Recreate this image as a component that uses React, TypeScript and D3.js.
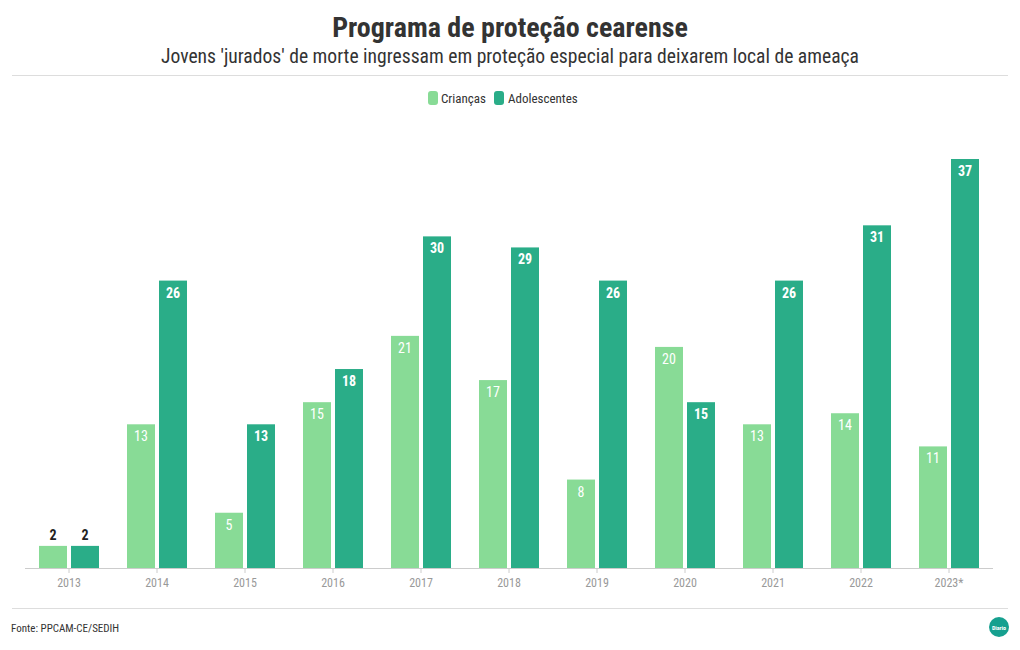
import React from "react";
import * as d3 from "d3";

const years = ["2013", "2014", "2015", "2016", "2017", "2018", "2019", "2020", "2021", "2022", "2023*"];
const criancas = [2, 13, 5, 15, 21, 17, 8, 20, 13, 14, 11];
const adolescentes = [2, 26, 13, 18, 30, 29, 26, 15, 26, 31, 37];
const seriesNames = ["Crianças", "Adolescentes"];
const seriesColors = ["#88db96", "#2aad88"];

const W = 1020;
const H = 650;
const FONT = "'Roboto Condensed', 'Liberation Sans Narrow', 'DejaVu Sans Condensed', Roboto, sans-serif";

export default function App() {
  const x = d3.scaleBand<string>().domain(years).range([25, 993]).paddingInner(0).paddingOuter(0);
  const x1 = d3.scaleBand<string>().domain(seriesNames).range([14, 74]).paddingInner(0.125).paddingOuter(0);
  const y = d3.scaleLinear().domain([0, 37]).range([568, 159]);
  const seriesData = [criancas, adolescentes];

  return (
    <svg width={W} height={H} style={{ position: "absolute", left: 0, top: 0, background: "#fff" }} fontFamily={FONT}>
      <text x={W / 2} y={37} textAnchor="middle" fontSize={28} fontWeight="bold" fill="#333">
        Programa de proteção cearense
      </text>
      <text x={W / 2} y={63} textAnchor="middle" fontSize={19.6} fill="#333">
        Jovens 'jurados' de morte ingressam em proteção especial para deixarem local de ameaça
      </text>
      <line x1={12} x2={1008} y1={75.5} y2={75.5} stroke="#ddd" />

      {/* legend */}
      <g transform="translate(428,98)">
        <rect x={0} y={-7} width={10} height={14} rx={3} fill={seriesColors[0]} />
        <text x={13} y={5} fontSize={13} fill="#333">{seriesNames[0]}</text>
        <rect x={66} y={-7} width={10} height={14} rx={3} fill={seriesColors[1]} />
        <text x={80} y={5} fontSize={13} fill="#333">{seriesNames[1]}</text>
      </g>

      {/* bars */}
      {years.map((yr, i) => (
        <g key={yr} transform={`translate(${x(yr)},0)`}>
          {seriesNames.map((s, k) => {
            const v = seriesData[k][i];
            const bx = x1(s)!;
            const bw = x1.bandwidth();
            const top = y(v);
            const inside = y(0) - top > 24;
            return (
              <g key={s}>
                <rect x={bx} y={top} width={bw} height={y(0) - top} fill={seriesColors[k]} />
                <text
                  x={bx + bw / 2}
                  y={inside ? top + 17 : top - 6}
                  textAnchor="middle"
                  fontSize={14}
                  fontWeight={k === 1 || !inside ? "bold" : "normal"}
                  fill={inside ? "#fff" : "#222"}
                >
                  {v}
                </text>
              </g>
            );
          })}
        </g>
      ))}

      {/* axis */}
      <line x1={25} x2={993} y1={568.5} y2={568.5} stroke="#ccc" />
      {years.map((yr) => {
        const cx = x(yr)! + x.bandwidth() / 2;
        return (
          <g key={yr}>
            <line x1={cx} x2={cx} y1={568} y2={573} stroke="#ccc" />
            <text x={cx} y={587} textAnchor="middle" fontSize={12} fill="#999">
              {yr}
            </text>
          </g>
        );
      })}

      <line x1={12} x2={1008} y1={608.5} y2={608.5} stroke="#ddd" />
      <text x={11} y={632} fontSize={11} fill="#333">Fonte: PPCAM-CE/SEDIH</text>
      <circle cx={999} cy={627} r={10} fill="#16a08f" />
      <text x={999} y={629.5} textAnchor="middle" fontSize={6} fontWeight="bold" fill="#fff">Diario</text>
    </svg>
  );
}
